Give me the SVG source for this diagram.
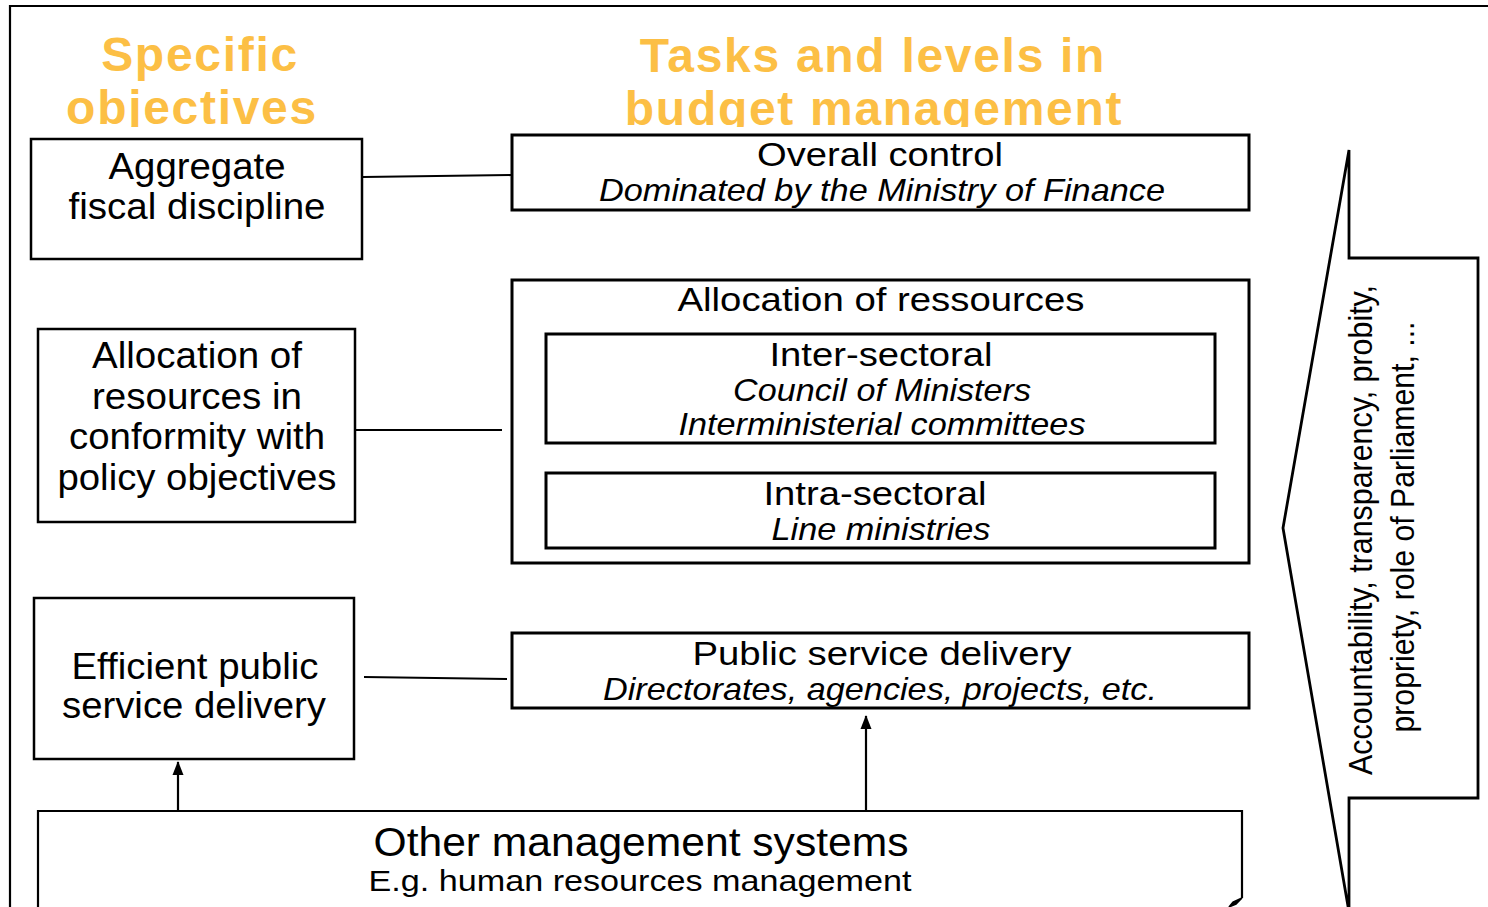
<svg xmlns="http://www.w3.org/2000/svg" width="1488" height="907" viewBox="0 0 1488 907">
<style>
.t{font-family:"Liberation Sans",Arial,sans-serif;fill:#000;text-anchor:middle}
.h{font-family:"Liberation Sans",Arial,sans-serif;font-weight:bold;fill:#FCBF45;text-anchor:middle;font-size:48px;letter-spacing:1.7px}
.i{font-style:italic}
.box{fill:#fff;stroke:#000;stroke-width:2.5}
.bx3{fill:#fff;stroke:#000;stroke-width:3}
.ln{stroke:#000;stroke-width:2.2;fill:none}
</style>
<defs>
<clipPath id="hc"><rect x="0" y="0" width="1488" height="127"/></clipPath>
<marker id="ah" markerWidth="14" markerHeight="14" refX="13" refY="7" orient="auto" markerUnits="userSpaceOnUse"><path d="M0,1.5 L14,7 L0,12.5 z" fill="#000"/></marker>
</defs>
<rect width="1488" height="907" fill="#fff"/>
<path d="M10,907 L10,6 L1488,6" class="ln"/>
<g id="headers" clip-path="url(#hc)">
<text class="h" x="200" y="71">Specific</text>
<text class="h" x="192" y="124">objectives</text>
<text class="h" x="873" y="72">Tasks and levels in</text>
<text class="h" x="874" y="125">budget management</text>
</g>
<g id="connectors">
<line x1="363" y1="177" x2="511" y2="175" class="ln"/>
<line x1="356" y1="430" x2="502" y2="430" class="ln"/>
<line x1="364" y1="677" x2="507" y2="679" class="ln"/>
<line x1="178" y1="811" x2="178" y2="762" class="ln" marker-end="url(#ah)"/>
<line x1="866" y1="811" x2="866" y2="716" class="ln" marker-end="url(#ah)"/>
</g>
<g id="obj1">
<rect x="31" y="139" width="331" height="120" class="box"/>
<text class="t" x="197" y="179" font-size="36" textLength="177" lengthAdjust="spacingAndGlyphs">Aggregate</text>
<text class="t" x="197" y="219" font-size="36" textLength="257" lengthAdjust="spacingAndGlyphs">fiscal discipline</text>
</g>
<g id="obj2">
<rect x="38" y="329" width="317" height="193" class="box"/>
<text class="t" x="197" y="368" font-size="36" textLength="210" lengthAdjust="spacingAndGlyphs">Allocation of</text>
<text class="t" x="197" y="409" font-size="36" textLength="210" lengthAdjust="spacingAndGlyphs">resources in</text>
<text class="t" x="197" y="449" font-size="36" textLength="256" lengthAdjust="spacingAndGlyphs">conformity with</text>
<text class="t" x="197" y="490" font-size="36" textLength="279" lengthAdjust="spacingAndGlyphs">policy objectives</text>
</g>
<g id="obj3">
<rect x="34" y="598" width="320" height="161" class="box"/>
<text class="t" x="195" y="679" font-size="36" textLength="247" lengthAdjust="spacingAndGlyphs">Efficient public</text>
<text class="t" x="194" y="718" font-size="36" textLength="264" lengthAdjust="spacingAndGlyphs">service delivery</text>
</g>
<g id="task1">
<rect x="512" y="135" width="737" height="75" class="bx3"/>
<text class="t" x="880" y="166" font-size="34" textLength="246" lengthAdjust="spacingAndGlyphs">Overall control</text>
<text class="t i" x="882" y="201" font-size="32" textLength="566" lengthAdjust="spacingAndGlyphs">Dominated by the Ministry of Finance</text>
</g>
<g id="task2">
<rect x="512" y="280" width="737" height="283" class="bx3"/>
<text class="t" x="881" y="311" font-size="34" textLength="407" lengthAdjust="spacingAndGlyphs">Allocation of ressources</text>
</g>
<g id="task2a">
<rect x="546" y="334" width="669" height="109" class="bx3"/>
<text class="t" x="881" y="366" font-size="34" textLength="223" lengthAdjust="spacingAndGlyphs">Inter-sectoral</text>
<text class="t i" x="882" y="401" font-size="32" textLength="298" lengthAdjust="spacingAndGlyphs">Council of Ministers</text>
<text class="t i" x="882" y="435" font-size="32" textLength="407" lengthAdjust="spacingAndGlyphs">Interministerial committees</text>
</g>
<g id="task2b">
<rect x="546" y="473" width="669" height="75" class="bx3"/>
<text class="t" x="875" y="505" font-size="34" textLength="223" lengthAdjust="spacingAndGlyphs">Intra-sectoral</text>
<text class="t i" x="881" y="540" font-size="32" textLength="219" lengthAdjust="spacingAndGlyphs">Line ministries</text>
</g>
<g id="task3">
<rect x="512" y="633" width="737" height="75" class="bx3"/>
<text class="t" x="882" y="665" font-size="34" textLength="379" lengthAdjust="spacingAndGlyphs">Public service delivery</text>
<text class="t i" x="880" y="700" font-size="32" textLength="554" lengthAdjust="spacingAndGlyphs">Directorates, agencies, projects, etc.</text>
</g>
<g id="other">
<path d="M38,912 L38,811 L1242,811 L1242,898" class="ln" stroke-width="2.5"/>
<path d="M1242,898 L1233,902 L1229,907 L1236,904 Z" fill="#000" stroke="#000" stroke-width="1.5"/>
<text class="t" x="641" y="856" font-size="40" textLength="535" lengthAdjust="spacingAndGlyphs">Other management systems</text>
<text class="t" x="640" y="891" font-size="30" textLength="543" lengthAdjust="spacingAndGlyphs">E.g. human resources management</text>
</g>
<g id="accountability">
<path d="M1349,150 L1349,258 L1478,258 L1478,798 L1349,798 L1349,912 L1283,528 Z" fill="#fff" stroke="#000" stroke-width="2.8" stroke-linejoin="miter"/>
<text class="t" transform="translate(1372,530) rotate(-90)" font-size="33" textLength="490" lengthAdjust="spacingAndGlyphs">Accountability, transparency, probity,</text>
<text class="t" transform="translate(1414,527) rotate(-90)" font-size="33" textLength="411" lengthAdjust="spacingAndGlyphs">propriety, role of Parliament, ...</text>
</g>
</svg>
